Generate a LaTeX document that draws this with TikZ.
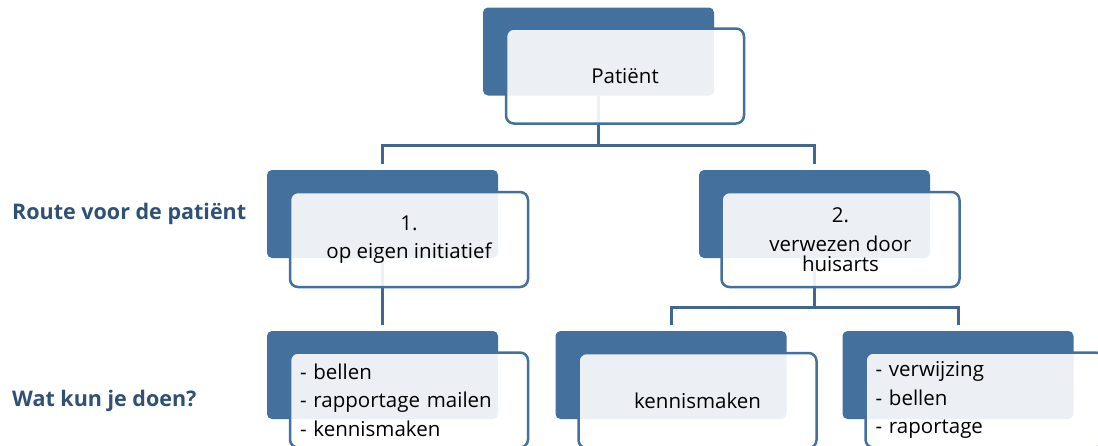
\documentclass[tikz,border=0pt]{standalone}
\usepackage{fontspec}
\setmainfont{Open Sans}
\usetikzlibrary{backgrounds}

\definecolor{boxblue}{HTML}{44709D}
\definecolor{edgeblue}{HTML}{41678F}
\definecolor{labelblue}{HTML}{2F5176}

\begin{document}
\begin{tikzpicture}
[x=1pt,y=-1pt,%
  every node/.style={inner sep=0pt,font=\fontsize{20.5}{20}\selectfont},%
  back/.style={shape=rectangle,fill=boxblue,rounded corners=5pt,minimum width=231pt,minimum height=88pt},%
  front/.style={shape=rectangle,draw=boxblue,line width=2.5pt,fill=white,fill opacity=0.9,text opacity=1,%
    rounded corners=8pt,minimum width=238pt,minimum height=95pt,align=center},%
  list/.style={front,align=left,text width=218pt,inner xsep=10pt,font=\fontsize{20.5}{28.5}\selectfont},%
  link/.style={draw=edgeblue,line width=3pt},%
  side/.style={anchor=west,text=labelblue,font=\fontsize{21.5}{22}\selectfont\bfseries}]
\path[use as bounding box] (0,0) rectangle (1098,445);
\clip (0,0) rectangle (1098,445);
% top
\node[back] (patient-back) at (598.5,51.5) {};
\node[front] (patient) at (625,76) {Patiënt};
% routes
\node[back] (route1-back) at (382.5,214) {};
\node[front] (route1) at (409,239.5) {1.\\[8pt]op eigen initiatief};
\node[back] (route2-back) at (814.5,214) {};
\node[front] (route2) at (840.5,239.5) {2.\\[9pt]verwezen door\\huisarts};
% what to do
\node[back] (todo1-back) at (382.5,375) {};
\node[list] (todo1) at (409,400) {- bellen\\- rapportage mailen\\- kennismaken};
\node[back] (todo2-back) at (671,375) {};
\node[front] (todo2) at (697.5,400.5) {kennismaken};
\node[back] (todo3-back) at (958,375) {};
\node[list] (todo3) at (984.5,400) {- verwijzing\\- bellen\\- raportage};
% side labels
\node[side] (route-label) at (12,214) {Route voor de patiënt};
\node[side] (todo-label) at (12,401) {Wat kun je doen?};
% connectors
\coordinate (split-top) at (598.5,145);
\coordinate (split-right) at (814.5,307);
\begin{scope}[on background layer]
\draw[link] (patient-back.south) -- (split-top);
\draw[link] (split-top) -| ([yshift=6pt]route1-back.north);
\draw[link] (split-top) -| ([yshift=6pt]route2-back.north);
\draw[link] (route1-back.south) -- ([yshift=6pt]todo1-back.north);
\draw[link] (route2-back.south) -- (split-right);
\draw[link] (split-right) -| ([yshift=6pt]todo2-back.north);
\draw[link] (split-right) -| ([yshift=6pt]todo3-back.north);
\end{scope}
\end{tikzpicture}
\end{document}
